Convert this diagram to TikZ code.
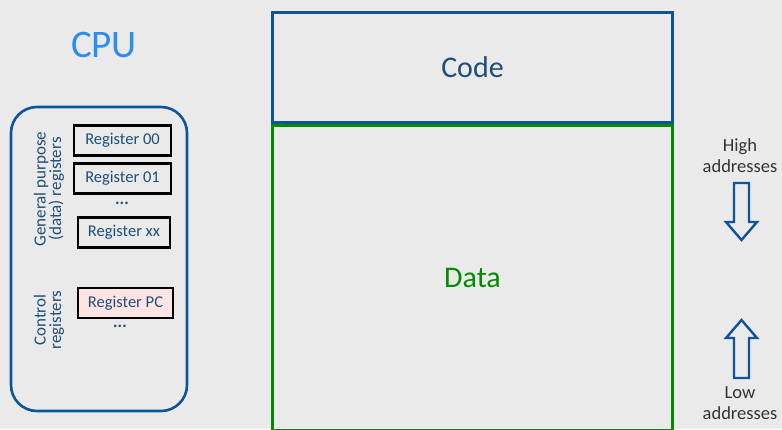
\documentclass[tikz,border=0pt]{standalone}
\usepackage{fontspec}
\setmainfont{Carlito}
\definecolor{bgGray}{RGB}{234,234,234}
\definecolor{memBlue}{RGB}{16,84,152}
\definecolor{txtBlue}{RGB}{31,78,121}
\definecolor{cpuBlue}{RGB}{45,140,240}
\definecolor{dataGreen}{RGB}{0,140,0}
\definecolor{pcPink}{RGB}{255,228,228}
\begin{document}
\begin{tikzpicture}[x=1pt, y=-1pt,
    regbox/.style={draw=black, line width=2.6pt, fill=bgGray, text=txtBlue,
      font=\fontsize{16.5}{18}\selectfont, inner sep=0pt, minimum height=30pt},
    sidelabel/.style={text=txtBlue, rotate=90, align=center,
      font=\fontsize{17}{15.5}\selectfont},
    addrlabel/.style={text=black!80, align=center, font=\fontsize{18.5}{21}\selectfont},
    dots/.style={text=txtBlue, font=\fontsize{17}{18}\selectfont\bfseries}]
    \useasboundingbox (0,0) rectangle (782,429);
    \clip (0,0) rectangle (782,429);
    \fill[bgGray] (0,0) rectangle (782,429);

    % CPU
    \node[text=cpuBlue, font=\fontsize{39}{45}\selectfont] (cpu) at (104,45) {CPU};
    \draw[memBlue, line width=2.6pt, rounded corners=26pt] (11,107) rectangle (187,411);
    \node[sidelabel] (gplabel) at (49,189) {General purpose\\(data) registers};
    \node[sidelabel] (ctllabel) at (49,320) {Control\\registers};

    \node[regbox, minimum width=97pt] (r00) at (122.5,140.5) {Register 00};
    \node[regbox, minimum width=97pt] (r01) at (122.5,178.5) {Register 01};
    \node[dots] (gpdots) at (122,203) {...};
    \node[regbox, minimum width=92pt] (rxx) at (124,232.5) {Register xx};
    \node[regbox, minimum width=95pt, fill=pcPink] (rpc) at (125.5,303) {Register PC};
    \node[dots] (ctldots) at (120,326) {...};

    % memory
    \node[draw=memBlue, line width=2.6pt, minimum width=400pt, minimum height=110pt,
      text=txtBlue, font=\fontsize{30}{36}\selectfont] (code) at (472.5,67.5) {Code};
    \node[draw=dataGreen, line width=2.6pt, minimum width=400pt, minimum height=305pt,
      text=dataGreen, font=\fontsize{30}{36}\selectfont] (data) at (472.5,278) {Data};

    % address direction
    \node[addrlabel] (high) at (740,156) {High\\addresses};
    \node[addrlabel] (low) at (740,403) {Low\\addresses};
    \draw[memBlue, line width=2.4pt, line join=miter]
      (734,183) -- (749,183) -- (749,222) -- (757,222) -- (741.5,240)
      -- (726,222) -- (734,222) -- cycle;
    \draw[memBlue, line width=2.4pt, line join=miter]
      (734,378) -- (749,378) -- (749,338) -- (757,338) -- (741.5,320)
      -- (726,338) -- (734,338) -- cycle;
\end{tikzpicture}
\end{document}
